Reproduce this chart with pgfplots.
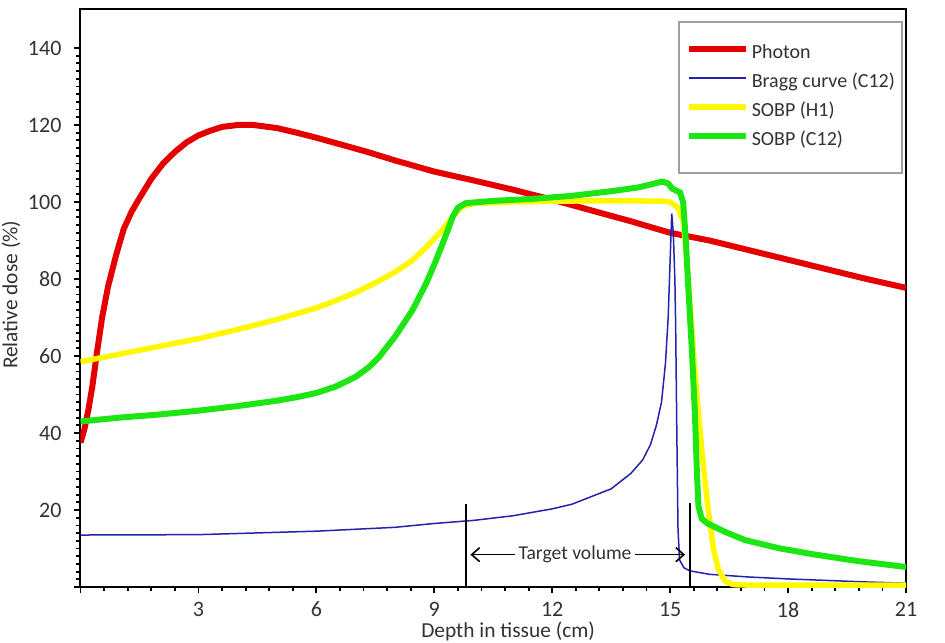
\documentclass[border=0pt]{standalone}
\usepackage{fontspec}
\setmainfont{Carlito}
\usepackage{pgfplots}
\pgfplotsset{compat=1.18}
\usetikzlibrary{arrows.meta}
\definecolor{cred}{RGB}{228,0,0}
\definecolor{cyel}{RGB}{255,248,0}
\definecolor{cgrn}{RGB}{30,230,20}
\definecolor{cblu}{RGB}{35,35,175}
\definecolor{txt}{RGB}{50,50,50}
\begin{document}
\begin{tikzpicture}
\useasboundingbox (-40.25pt,-27.5pt) rectangle (432.25pt,293.5pt);
\begin{axis}[
  at={(0,0)}, anchor=south west,
  scale only axis, width=412.75pt, height=288.75pt,
  xmin=0, xmax=21, ymin=0, ymax=150,
  axis line style={line width=1pt},
  tick style={line width=0.9pt, black},
  major tick length=3pt, minor tick length=2pt,
  tick align=outside, tick pos=left,
  xtick={0,3,...,21}, xticklabels={{},3,6,9,12,15,18,21},
  ytick={0,20,...,140}, yticklabels={{},20,40,60,80,100,120,140},
  minor x tick num=4, minor y tick num=9,
  /pgf/number format/assume math mode=true,
  tick label style={font=\fontsize{11}{12}\selectfont, text=txt},
  yticklabel style={xshift=-3pt},
  xticklabel style={yshift=-1pt},
  xlabel={Depth in tissue (cm)}, ylabel={Relative dose (\%)},
  label style={font=\fontsize{10.7}{12}\selectfont, text=txt},
  xlabel style={at={(axis description cs:0.518,0)}, anchor=center, yshift=-22pt},
  ylabel style={at={(axis description cs:-0.084,0.506)}, anchor=center},
  legend cell align=left,
  legend style={at={(axis cs:15.2,147)}, anchor=north west, draw=gray!75, line width=0.75pt,
    inner xsep=3.5pt, inner ysep=11.5pt, row sep=5.5pt,
    font=\fontsize{10}{12}\selectfont, text=txt,
    nodes={inner sep=0pt, text height=7pt, text depth=2pt}},
  legend image code/.code={\draw[#1] (0pt,2.5pt) -- (28.5pt,2.5pt); \path (30pt,0pt);},
]
% Photon
\addplot[cred, line width=3pt] coordinates {
(0,37.5) (0.1,41) (0.2,46) (0.3,52) (0.42,61) (0.55,70) (0.7,78) (0.9,86)
(1.1,93) (1.3,97.5) (1.5,101) (1.8,106) (2.1,110) (2.4,113) (2.7,115.5)
(3.0,117.3) (3.3,118.5) (3.6,119.5) (4.0,120) (4.4,120) (5.0,119.2) (5.5,118)
(6.0,116.7) (6.6,115) (7.3,113) (8.0,110.8) (9.0,107.9) (10.0,105.6) (11.0,103.2)
(12.0,100.6) (13.0,97.8) (14.0,95) (15.0,92) (16.0,90) (17.0,87.5) (18.0,85)
(19.0,82.5) (20.0,80) (21.0,77.7)};
\addlegendentry{Photon}
% Bragg curve C12
\addplot[cblu, line width=0.75pt] coordinates {
(0,13.5) (3,13.6) (4,13.9) (6,14.5) (7,15) (8,15.5) (9,16.5) (10,17.3) (11,18.5)
(12,20.3) (12.5,21.5) (13,23.5) (13.5,25.5) (14,29.5) (14.3,33) (14.5,37)
(14.65,42) (14.78,48) (14.88,58) (14.95,70) (15.0,85) (15.04,97) (15.08,92)
(15.12,80) (15.14,68) (15.17,40) (15.2,15) (15.24,7) (15.35,5) (15.5,4.2)
(16,3.3) (17,2.6) (18,2.1) (19,1.7) (20,1.3) (21,1.0)};
\addlegendentry{Bragg curve (C12)}
% SOBP H1
\addplot[cyel, line width=2.75pt] coordinates {
(0,58.5) (1,60.5) (2,62.5) (3,64.5) (4,66.9) (5,69.5) (6,72.5) (6.5,74.4) (7,76.5)
(7.5,79) (8,81.8) (8.45,84.9) (8.8,88.3) (9.2,92.7) (9.5,96.5) (9.7,98.8) (10,99.6)
(11,100) (12,100.2) (13,100.3) (14,100.3) (14.8,100.2) (15.0,100) (15.2,98.5)
(15.33,95) (15.4,88) (15.46,80) (15.6,60) (15.72,45) (15.85,31) (15.98,19)
(16.1,10) (16.23,4.5) (16.4,1.5) (16.6,0.6) (17,0.5) (21,0.5)};
\addlegendentry{SOBP (H1)}
% SOBP C12
\addplot[cgrn, line width=3pt] coordinates {
(0,43) (1,44) (2,44.8) (3,45.8) (4,47) (5,48.4) (5.5,49.3) (6,50.4) (6.5,52.1) (7,54.6)
(7.35,57.2) (7.6,59.8) (8,65) (8.45,72) (8.8,79) (9.05,85) (9.3,91.5)
(9.47,96.2) (9.6,98.5) (9.8,99.7) (10.5,100.3) (11.5,100.8) (12.5,101.6)
(13.5,102.8) (14.2,103.8) (14.8,105.3) (14.95,104.8) (15.05,103.5) (15.25,102.5)
(15.33,100) (15.4,90) (15.45,80) (15.55,62) (15.63,45) (15.68,30) (15.72,21)
(15.8,17.8) (15.95,16.5) (16.4,14.3) (16.9,12.2) (17.8,10) (18.7,8.4)
(19.8,6.7) (21,5.2)};
\addlegendentry{SOBP (C12)}
% target volume annotation
\draw[black, line width=0.8pt] (axis cs:9.8,0) -- (axis cs:9.8,21.5);
\draw[black, line width=0.8pt] (axis cs:15.5,0) -- (axis cs:15.5,21.7);
\draw[black, line width=0.8pt, -{Straight Barb[length=4pt,width=7pt]}] (axis cs:11.05,8.4) -- (axis cs:9.92,8.4);
\draw[black, line width=0.8pt, -{Straight Barb[length=4pt,width=7pt]}] (axis cs:14.1,8.4) -- (axis cs:15.38,8.4);
\node[font=\fontsize{9.8}{11}\selectfont, text=txt, inner sep=0pt] at (axis cs:12.58,8.4) {Target volume};
\end{axis}
\end{tikzpicture}
\end{document}
